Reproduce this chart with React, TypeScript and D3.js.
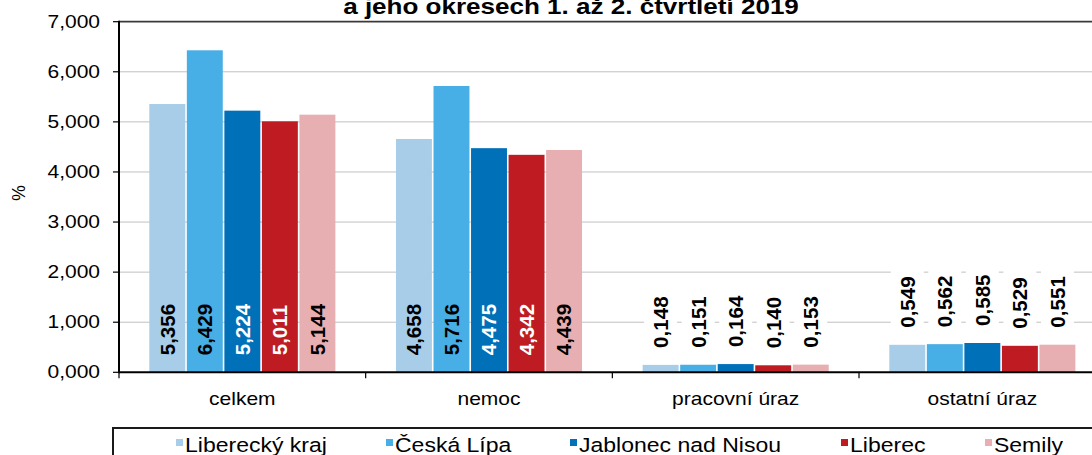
import React from "react";
import * as d3 from "d3";

const categories = ["celkem", "nemoc", "pracovní úraz", "ostatní úraz"];
const seriesNames = ["Liberecký kraj", "Česká Lípa", "Jablonec nad Nisou", "Liberec", "Semily"];
const libereckyKraj = [5.356, 4.658, 0.148, 0.549];
const ceskaLipa = [6.429, 5.716, 0.151, 0.562];
const jablonec = [5.224, 4.475, 0.164, 0.585];
const liberec = [5.011, 4.342, 0.14, 0.529];
const semily = [5.144, 4.439, 0.153, 0.551];
const seriesValues = [libereckyKraj, ceskaLipa, jablonec, liberec, semily];
const seriesColors = ["#a7cde8", "#48aee6", "#0070b9", "#be1b23", "#e7afb1"];
const labelColors = ["#000", "#000", "#fff", "#fff", "#000"];
const yTicks = [0, 1, 2, 3, 4, 5, 6, 7];
const titleLine = "a jeho okresech 1. až 2. čtvrtletí 2019";
const yAxisTitle = "%";

const FONT = "Arial, 'Liberation Sans', Helvetica, sans-serif";
const fmt = (v: number) => d3.format(".3f")(v).replace(".", ",");

export default function App() {
  const W = 1092;
  const H = 455;
  const left = 119;
  const bandW = 246.67;
  const y = d3.scaleLinear().domain([0, 7]).range([372.3, 21.7]);
  const x0 = d3
    .scaleBand<string>()
    .domain(categories)
    .range([left, left + bandW * categories.length]);
  const x1 = d3
    .scaleBand<string>()
    .domain(seriesNames)
    .range([29.5, x0.bandwidth() - 29.5]);
  const right = left + bandW * categories.length;
  const SX = 1.2;

  const bars: any[] = [];
  categories.forEach((c, ci) => {
    seriesNames.forEach((s, si) => {
      const v = seriesValues[si][ci];
      const bx = (x0(c) as number) + (x1(s) as number);
      const bw = x1.bandwidth();
      bars.push({ c, s, si, v, bx, bw, cx: bx + bw / 2 });
    });
  });

  const legendX = [176, 386, 570, 841, 985];

  return (
    <svg
      width={W}
      height={H}
      style={{ position: "fixed", left: 0, top: 0, background: "#fff" }}
      fontFamily={FONT}
    >
      <rect x={0} y={0} width={W} height={H} fill="#fff" />
      {/* title */}
      <text
        transform={`translate(571,14) scale(${SX},1)`}
        textAnchor="middle"
        fontWeight="bold"
        fontSize={21.7}
        fill="#000"
      >
        {titleLine}
      </text>
      {/* gridlines */}
      {yTicks
        .filter((t) => t > 0 && t < 7)
        .map((t) => (
          <line key={t} x1={left} x2={right} y1={y(t)} y2={y(t)} stroke="#c0c0c0" strokeWidth={1} />
        ))}
      <line x1={left} x2={right} y1={y(7)} y2={y(7)} stroke="#3a3a3a" strokeWidth={1.8} />
      {/* bars */}
      {bars.map((b) => (
        <rect
          key={b.c + b.s}
          x={b.bx + 0.8}
          width={b.bw - 1.6}
          y={y(b.v)}
          height={y(0) - y(b.v)}
          fill={seriesColors[b.si]}
        />
      ))}
      {/* labels */}
      {bars.map((b) => {
        const inside = b.v > 1.5;
        const start = inside ? y(0) - 17 : y(b.v) - 17;
        const len = 52;
        return (
          <g key={"l" + b.c + b.s}>
            {!inside && (
              <rect x={b.cx - 16.5} y={start - len - 6} width={33} height={len + 12} fill="#fff" />
            )}
            <text
              transform={`translate(${b.cx},${start}) rotate(-90)`}
              dy="0.36em"
              fontWeight="bold"
              fontSize={20.6}
              fill={inside ? labelColors[b.si] : "#000"}
            >
              {fmt(b.v)}
            </text>
          </g>
        );
      })}
      {/* y axis */}
      <line x1={left} x2={left} y1={y(7) - 1} y2={y(0) + 1} stroke="#000" strokeWidth={2} />
      {yTicks.map((t) => (
        <g key={"yt" + t}>
          <line x1={113} x2={left} y1={y(t)} y2={y(t)} stroke="#000" strokeWidth={1.2} />
          <text
            transform={`translate(100,${y(t)}) scale(${SX},1)`}
            dy="0.35em"
            textAnchor="end"
            fontSize={17.5}
            fill="#000"
          >
            {fmt(t)}
          </text>
        </g>
      ))}
      <text
        transform={`translate(19,193) rotate(-90)`}
        dy="0.35em"
        textAnchor="middle"
        fontSize={17.5}
        fill="#000"
      >
        {yAxisTitle}
      </text>
      {/* x axis */}
      <line x1={left} x2={right} y1={y(0)} y2={y(0)} stroke="#000" strokeWidth={2} />
      {d3.range(categories.length + 1).map((i) => (
        <line
          key={"xt" + i}
          x1={left + i * bandW}
          x2={left + i * bandW}
          y1={y(0)}
          y2={y(0) + 6}
          stroke="#000"
          strokeWidth={1.2}
        />
      ))}
      {categories.map((c) => (
        <text
          key={"c" + c}
          transform={`translate(${(x0(c) as number) + x0.bandwidth() / 2},405) scale(${SX},1)`}
          textAnchor="middle"
          fontSize={17.5}
          fill="#000"
        >
          {c}
        </text>
      ))}
      {/* legend */}
      <rect x={113} y={428} width={1000} height={60} fill="none" stroke="#1a1a1a" strokeWidth={2} />
      {seriesNames.map((s, i) => (
        <g key={"lg" + s}>
          <rect x={legendX[i]} y={439} width={7} height={7} fill={seriesColors[i]} />
          <text
            transform={`translate(${legendX[i] + 9},452) scale(1.18,1)`}
            fontSize={19.5}
            fill="#000"
          >
            {s}
          </text>
        </g>
      ))}
    </svg>
  );
}
